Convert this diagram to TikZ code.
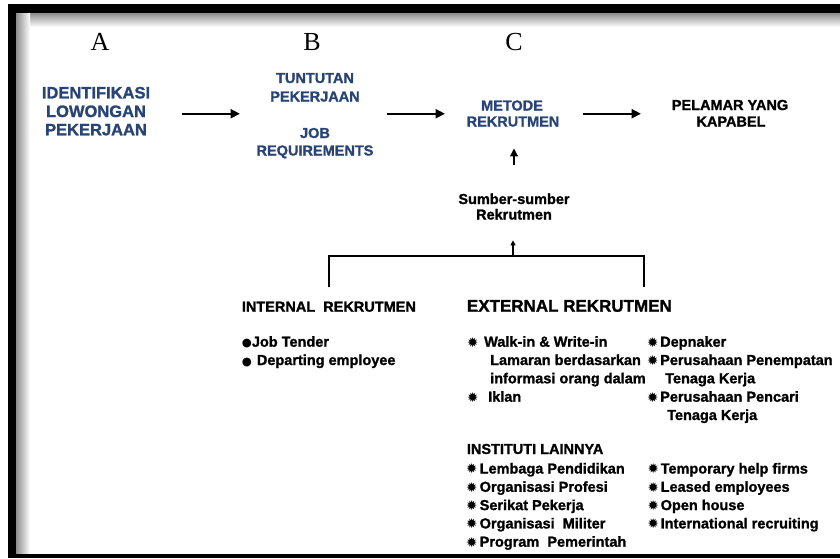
\documentclass[tikz,border=0pt]{standalone}
\usepackage{fontspec}
\setmainfont{Liberation Sans}[BoldFeatures={FakeBold=1.3}]
\newfontfamily\letterfont{Liberation Serif}
\newfontfamily\symfont{DejaVu Sans}
\usetikzlibrary{arrows.meta,calc}
\definecolor{hdblue}{RGB}{40,68,118}
\newcommand\sitem[2]{\makebox[#1][l]{\raisebox{-0.4pt}{\symfont\fontsize{13.5}{13}\selectfont ✹}}#2}
\newcommand\ditem[2]{\makebox[#1][l]{\symfont\fontsize{11.5}{11}\selectfont ●}#2}
\tikzset{
  lbl/.style={font=\bfseries\fontsize{14.5}{18}\selectfont, inner sep=0pt, text=black},
  hd/.style={lbl, text=hdblue},
  bighd/.style={hd, font=\bfseries\fontsize{16.5}{18}\selectfont},
  abcletter/.style={font=\letterfont\fontsize{26}{26}\selectfont, inner sep=0pt},
  listitem/.style={lbl, anchor=base west},
  flowarrow/.style={line width=2.4pt, -{Triangle[length=9.5pt,width=9pt]}},
  uparrow/.style={line width=2pt, -{Triangle[length=8pt,width=7.5pt]}},
  tinyarrow/.style={line width=1.6pt, -{Triangle[length=5pt,width=5pt]}},
  bracket/.style={line width=2.4pt},
}
\begin{document}
\begin{tikzpicture}[x=1pt,y=-1pt]
\useasboundingbox (0,0) rectangle (840,558);
% frame with inner shadow
\shade[top color=black!45, bottom color=white] (16,13) rectangle (840,27);
\shade[left color=black!45, right color=white] (16,13) rectangle (30,554);
\fill[black] (8,4) rectangle (840,13);
\fill[black] (8,4) rectangle (16,558);
\fill[black] (8,554) rectangle (840,558);

% column letters
\node[abcletter] (la) at (100,42) {A};
\node[abcletter] (lb) at (312,42) {B};
\node[abcletter] (lc) at (514,42) {C};

% A block
\node[bighd, anchor=base] (idA) at (96,98.4) {IDENTIFIKASI};
\node[bighd, anchor=base] (lowA) at (96,117) {LOWONGAN};
\node[bighd, anchor=base] (pekA) at (96,135.3) {PEKERJAAN};
% B block
\node[hd, anchor=base] (tunB) at (315,83) {TUNTUTAN};
\node[hd, anchor=base] (pekB) at (315,101.5) {PEKERJAAN};
\node[hd, anchor=base] (jobB) at (315,138) {JOB};
\node[hd, anchor=base] (reqB) at (315,155.5) {REQUIREMENTS};
% C block
\node[hd, anchor=base] (metC) at (512,110.5) {METODE};
\node[hd, anchor=base] (rekC) at (513,126.5) {REKRUTMEN};
% result
\node[lbl, anchor=base] (pel1) at (730,110) {PELAMAR YANG};
\node[lbl, anchor=base] (pel2) at (731,126.5) {KAPABEL};

% sources
\node[lbl, anchor=base] (sum1) at (514,204) {Sumber-sumber};
\node[lbl, anchor=base] (sum2) at (514,219.5) {Rekrutmen};

% flow arrows
\draw[flowarrow] ($(lowA.center)+(86,2.4)$) -- ($(tunB.center |- lowA.center)+(-75,2.4)$);
\draw[flowarrow] ($(tunB.center |- lowA.center)+(72,2.4)$) -- ($(metC.center |- lowA.center)+(-67,2.4)$);
\draw[flowarrow] ($(metC.center |- lowA.center)+(71,2.4)$) -- ($(pel1.center |- lowA.center)+(-89,2.4)$);
\draw[uparrow] ($(sum1.north)+(0,-28)$) -- ($(sum1.north |- rekC.south)+(0,21.5)$);

% bracket
\coordinate (brL) at (329,287);
\coordinate (brM) at (513,256);
\coordinate (brR) at (644,287);
\draw[bracket] (brL) |- (brM) -| (brR);
\draw[tinyarrow] (brM) -- ($(brM |- sum2.south)+(0,20.5)$);

% internal
\node[listitem] (intT) at (241.7,311.7) {INTERNAL\ \ REKRUTMEN};
\node[listitem] (int1) at (241.7,346.7) {\ditem{10pt}{Job Tender}};
\node[listitem] (int2) at (241.7,365) {\ditem{15pt}{Departing employee}};

% external
\node[listitem, font=\bfseries\fontsize{17}{18}\selectfont] (extT) at (466.7,311.7) {EXTERNAL REKRUTMEN};
\node[listitem] (ex1) at (467,346.7) {\sitem{17pt}{Walk-in \& Write-in}};
\node[listitem] (ex2) at (490,365) {Lamaran berdasarkan};
\node[listitem] (ex3) at (490,383.3) {informasi orang dalam};
\node[listitem] (ex4) at (467,401.7) {\sitem{21pt}{Iklan}};
\node[listitem] (ey1) at (647,346.7) {\sitem{13pt}{Depnaker}};
\node[listitem] (ey2) at (647,365) {\sitem{13pt}{Perusahaan Penempatan}};
\node[listitem] (ey3) at (665,383.3) {Tenaga Kerja};
\node[listitem] (ey4) at (647,401.7) {\sitem{13pt}{Perusahaan Pencari}};
\node[listitem] (ey5) at (667,420) {Tenaga Kerja};

% other institutions
\node[listitem] (insT) at (466.7,454) {INSTITUTI LAINNYA};
\node[listitem] (in1) at (466,473.5) {\sitem{13.5pt}{Lembaga Pendidikan}};
\node[listitem] (in2) at (466,491.8) {\sitem{13.5pt}{Organisasi Profesi}};
\node[listitem] (in3) at (466,510.1) {\sitem{13.5pt}{Serikat Pekerja}};
\node[listitem] (in4) at (466,528.4) {\sitem{13.5pt}{Organisasi\ \ Militer}};
\node[listitem] (in5) at (466,546.7) {\sitem{13.5pt}{Program\ \ Pemerintah}};
\node[listitem] (iy1) at (647.5,473.5) {\sitem{13pt}{Temporary help firms}};
\node[listitem] (iy2) at (647.5,491.8) {\sitem{13pt}{Leased employees}};
\node[listitem] (iy3) at (647.5,510.1) {\sitem{13pt}{Open house}};
\node[listitem] (iy4) at (647.5,528.4) {\sitem{13pt}{International recruiting}};
\end{tikzpicture}
\end{document}
